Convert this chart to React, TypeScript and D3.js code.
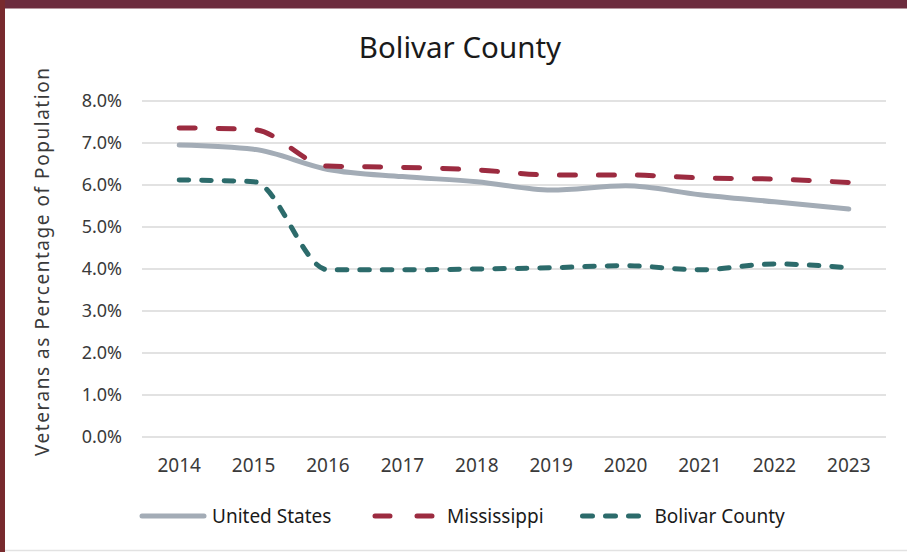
import React, { useRef, useEffect } from "react";
import * as d3 from "d3";

const years = ["2014", "2015", "2016", "2017", "2018", "2019", "2020", "2021", "2022", "2023"];
const unitedStates = [6.95, 6.85, 6.37, 6.2, 6.08, 5.88, 5.98, 5.77, 5.6, 5.43];
const mississippi = [7.36, 7.32, 6.45, 6.42, 6.36, 6.24, 6.24, 6.17, 6.14, 6.06];
const bolivarCounty = [6.12, 6.08, 3.98, 3.98, 4.0, 4.03, 4.08, 3.98, 4.12, 4.03];
const yTicks = [0, 1, 2, 3, 4, 5, 6, 7, 8];
const seriesNames = ["United States", "Mississippi", "Bolivar County"];

const FONT = "'Noto Sans', 'Open Sans', sans-serif";

function drawChart(svgElement: SVGSVGElement, totalWidth: number, totalHeight: number) {
  const svg = d3.select(svgElement);
  svg.selectAll("*").remove();

  // frame
  svg.append("rect").attr("width", totalWidth).attr("height", totalHeight).attr("fill", "#ffffff");
  svg.append("rect").attr("x", 0).attr("y", 0).attr("width", totalWidth).attr("height", 8.5).attr("fill", "#6c2c3e");
  svg.append("rect").attr("x", 0).attr("y", 0).attr("width", 5).attr("height", totalHeight).attr("fill", "#782a2e");
  svg.append("line")
    .attr("x1", 5).attr("x2", totalWidth)
    .attr("y1", totalHeight - 1.5).attr("y2", totalHeight - 1.5)
    .attr("stroke", "#e2e2e2").attr("stroke-width", 1.5);

  const margin = { top: 101, left: 142, right: 21, bottom: 115 };
  const x = d3.scaleBand<string>().domain(years).range([margin.left, totalWidth - margin.right]);
  const y = d3.scaleLinear().domain([0, 8]).range([totalHeight - margin.bottom, margin.top]);
  const cx = (d: string) => (x(d) as number) + x.bandwidth() / 2;

  // title
  svg.append("text")
    .attr("x", 460).attr("y", 58)
    .attr("text-anchor", "middle")
    .style("font-family", FONT).style("font-size", "29.5px").attr("fill", "#1a1a1a")
    .text("Bolivar County");

  // gridlines
  svg.append("g").selectAll("line").data(yTicks).enter().append("line")
    .attr("x1", margin.left).attr("x2", totalWidth - margin.right)
    .attr("y1", (d) => y(d)).attr("y2", (d) => y(d))
    .attr("stroke", "#d9d9d9").attr("stroke-width", 1.5);

  // y tick labels
  svg.append("g").selectAll("text").data(yTicks).enter().append("text")
    .attr("x", 122).attr("y", (d) => y(d)).attr("dy", "0.35em")
    .attr("text-anchor", "end")
    .style("font-family", FONT).style("font-size", "18px").attr("fill", "#3a3a3a")
    .text((d) => d3.format(".1f")(d) + "%");

  // x tick labels
  svg.append("g").selectAll("text").data(years).enter().append("text")
    .attr("x", (d) => cx(d)).attr("y", 472)
    .attr("text-anchor", "middle")
    .style("font-family", FONT).style("font-size", "19px").attr("fill", "#3a3a3a")
    .text((d) => d);

  // y axis title
  svg.append("text")
    .attr("transform", "translate(49, 262) rotate(-90)")
    .attr("text-anchor", "middle")
    .attr("textLength", 388)
    .style("font-family", FONT).style("font-size", "19px").attr("fill", "#3a3a3a")
    .text("Veterans as Percentage of Population");

  const styles = [
    { color: "#a3acb6", dash: "none", legendDash: "none", legendLen: 62 },
    { color: "#9c2b40", dash: "16 23", legendDash: "15 27", legendLen: 57 },
    { color: "#2c6b6b", dash: "9.5 13", legendDash: "10 13", legendLen: 56 },
  ];
  const allSeries = [unitedStates, mississippi, bolivarCounty];

  const line = d3.line<number>()
    .x((_, i) => cx(years[i]))
    .y((d) => y(d))
    .curve(d3.curveMonotoneX);

  allSeries.forEach((values, i) => {
    svg.append("path")
      .datum(values)
      .attr("d", line)
      .attr("fill", "none")
      .attr("stroke", styles[i].color)
      .attr("stroke-width", 5)
      .attr("stroke-linecap", "round")
      .attr("stroke-dasharray", styles[i].dash);
  });

  // legend
  const legendX = [142, 375, 582.5];
  const legendY = 516;
  seriesNames.forEach((name, i) => {
    const g = svg.append("g").attr("transform", `translate(${legendX[i]}, ${legendY})`);
    g.append("line")
      .attr("x1", 0).attr("x2", styles[i].legendLen).attr("y1", 0).attr("y2", 0)
      .attr("stroke", styles[i].color)
      .attr("stroke-width", 5)
      .attr("stroke-linecap", "round")
      .attr("stroke-dasharray", styles[i].legendDash);
    g.append("text")
      .attr("x", i === 0 ? 70 : 72).attr("y", 0).attr("dy", "0.35em")
      .style("font-family", FONT).style("font-size", "19px").attr("fill", "#1a1a1a")
      .text(name);
  });
}

const App: React.FunctionComponent = function () {
  const svgRef = useRef<SVGSVGElement>(null);
  const width = 907;
  const height = 552;

  useEffect(() => {
    document.body.style.margin = "0";
    if (svgRef.current == null) {
      return;
    }
    drawChart(svgRef.current, width, height);
  }, []);

  return <svg ref={svgRef} width={width} height={height} style={{ display: "block" }}></svg>;
};

export default App;
